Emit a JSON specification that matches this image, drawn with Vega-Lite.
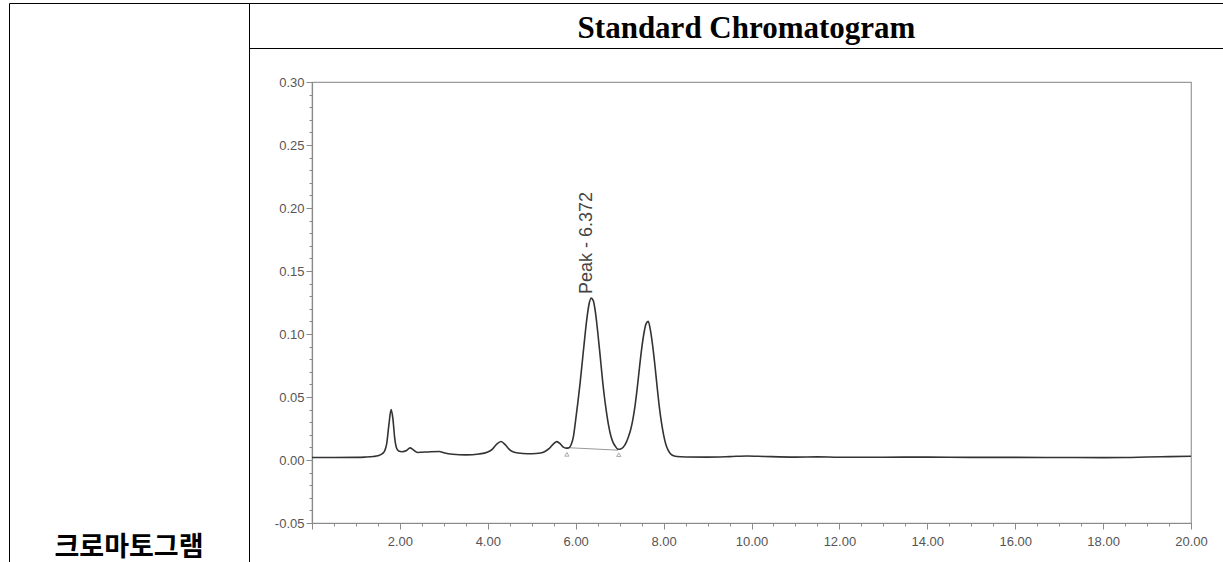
{
  "$schema": "https://vega.github.io/schema/vega-lite/v6.json",
  "padding": {"left": 8, "top": 2, "right": 0, "bottom": 0},
  "background": "#ffffff",
  "config": {
    "view": {"stroke": null},
    "axis": {"labelFont": "Liberation Sans", "grid": false}
  },
  "datasets": {
    "trace": [
      {"t": 0.00, "v": 0.0020}, {"t": 0.50, "v": 0.0020}, {"t": 1.00, "v": 0.0021}, {"t": 1.20, "v": 0.0023},
      {"t": 1.40, "v": 0.0028}, {"t": 1.50, "v": 0.0034}, {"t": 1.60, "v": 0.0050}, {"t": 1.65, "v": 0.0070},
      {"t": 1.70, "v": 0.0130}, {"t": 1.75, "v": 0.0280}, {"t": 1.80, "v": 0.0400}, {"t": 1.84, "v": 0.0330},
      {"t": 1.88, "v": 0.0180}, {"t": 1.92, "v": 0.0100}, {"t": 1.97, "v": 0.0072}, {"t": 2.05, "v": 0.0066},
      {"t": 2.15, "v": 0.0075}, {"t": 2.23, "v": 0.0096}, {"t": 2.30, "v": 0.0082}, {"t": 2.40, "v": 0.0060},
      {"t": 2.50, "v": 0.0062}, {"t": 2.70, "v": 0.0066}, {"t": 2.90, "v": 0.0068}, {"t": 3.00, "v": 0.0058},
      {"t": 3.20, "v": 0.0046}, {"t": 3.50, "v": 0.0041}, {"t": 3.80, "v": 0.0048}, {"t": 4.00, "v": 0.0064},
      {"t": 4.10, "v": 0.0085}, {"t": 4.20, "v": 0.0125}, {"t": 4.30, "v": 0.0147}, {"t": 4.40, "v": 0.0120},
      {"t": 4.50, "v": 0.0080}, {"t": 4.60, "v": 0.0062}, {"t": 4.80, "v": 0.0052}, {"t": 5.00, "v": 0.0050},
      {"t": 5.20, "v": 0.0056}, {"t": 5.30, "v": 0.0068}, {"t": 5.40, "v": 0.0092}, {"t": 5.50, "v": 0.0130},
      {"t": 5.57, "v": 0.0146}, {"t": 5.65, "v": 0.0128}, {"t": 5.72, "v": 0.0102}, {"t": 5.78, "v": 0.0094},
      {"t": 5.85, "v": 0.0098}, {"t": 5.90, "v": 0.0125}, {"t": 5.95, "v": 0.0190}, {"t": 6.00, "v": 0.0320},
      {"t": 6.05, "v": 0.0460}, {"t": 6.10, "v": 0.0610}, {"t": 6.15, "v": 0.0780}, {"t": 6.20, "v": 0.0950},
      {"t": 6.25, "v": 0.1110}, {"t": 6.30, "v": 0.1230}, {"t": 6.35, "v": 0.1285}, {"t": 6.40, "v": 0.1265},
      {"t": 6.45, "v": 0.1170}, {"t": 6.50, "v": 0.1020}, {"t": 6.55, "v": 0.0850}, {"t": 6.60, "v": 0.0670},
      {"t": 6.65, "v": 0.0510}, {"t": 6.70, "v": 0.0380}, {"t": 6.75, "v": 0.0270}, {"t": 6.80, "v": 0.0190},
      {"t": 6.85, "v": 0.0140}, {"t": 6.90, "v": 0.0110}, {"t": 6.95, "v": 0.0088}, {"t": 7.00, "v": 0.0085},
      {"t": 7.05, "v": 0.0092}, {"t": 7.10, "v": 0.0110}, {"t": 7.15, "v": 0.0140}, {"t": 7.20, "v": 0.0185},
      {"t": 7.25, "v": 0.0240}, {"t": 7.30, "v": 0.0320}, {"t": 7.35, "v": 0.0430}, {"t": 7.40, "v": 0.0570},
      {"t": 7.45, "v": 0.0730}, {"t": 7.50, "v": 0.0880}, {"t": 7.55, "v": 0.1000}, {"t": 7.60, "v": 0.1080},
      {"t": 7.65, "v": 0.1100}, {"t": 7.70, "v": 0.1030}, {"t": 7.75, "v": 0.0910}, {"t": 7.80, "v": 0.0760},
      {"t": 7.85, "v": 0.0590}, {"t": 7.90, "v": 0.0430}, {"t": 7.95, "v": 0.0300}, {"t": 8.00, "v": 0.0200},
      {"t": 8.05, "v": 0.0125}, {"t": 8.10, "v": 0.0080}, {"t": 8.15, "v": 0.0052}, {"t": 8.20, "v": 0.0038},
      {"t": 8.30, "v": 0.0028}, {"t": 8.50, "v": 0.0024}, {"t": 9.00, "v": 0.0023}, {"t": 9.50, "v": 0.0027},
      {"t": 9.90, "v": 0.0032}, {"t": 10.30, "v": 0.0028}, {"t": 11.00, "v": 0.0023}, {"t": 11.50, "v": 0.0025},
      {"t": 12.00, "v": 0.0022}, {"t": 13.00, "v": 0.0022}, {"t": 14.00, "v": 0.0023}, {"t": 15.00, "v": 0.0021},
      {"t": 16.00, "v": 0.0021}, {"t": 17.00, "v": 0.0020}, {"t": 18.00, "v": 0.0019}, {"t": 18.50, "v": 0.0020},
      {"t": 19.00, "v": 0.0024}, {"t": 19.50, "v": 0.0027}, {"t": 20.00, "v": 0.0030}
    ],
    "baseline": [{"t": 5.81, "v": 0.0098}, {"t": 6.96, "v": 0.0078}],
    "markers": [{"t": 5.80, "v": 0.0045}, {"t": 6.98, "v": 0.0042}],
    "peak": [{"t": 6.372, "v": 0.1285, "label": "Peak - 6.372"}]
  },
  "bounds": "flush",
  "spacing": 0,
  "hconcat": [
    {
      "width": 240,
      "height": 560,
      "view": {"stroke": "#000000", "strokeWidth": 1},
      "title": {"text": "크로마토그램", "orient": "bottom", "anchor": "middle", "frame": "group", "offset": -28, "baseline": "top", "font": "Noto Sans CJK KR", "fontWeight": "bold", "fontSize": 27, "color": "#000000"},
      "data": {"values": []},
      "mark": {"type": "point", "opacity": 0},
      "encoding": {}
    },
    {
      "bounds": "flush",
      "spacing": 34,
      "vconcat": [
        {
          "width": 975,
          "height": 45,
          "view": {"stroke": "#000000", "strokeWidth": 1},
          "title": {"text": "Standard  Chromatogram", "orient": "bottom", "anchor": "middle", "frame": "group", "offset": -10, "baseline": "alphabetic", "dx": 10, "font": "Liberation Serif", "fontWeight": "bold", "fontSize": 31, "color": "#000000"},
          "data": {"values": []},
          "mark": {"type": "point", "opacity": 0},
          "encoding": {}
        },
        {
          "bounds": "flush",
          "spacing": 0,
          "hconcat": [
            {
              "width": 63,
              "height": 441,
              "data": {"values": []},
              "mark": {"type": "point", "opacity": 0},
              "encoding": {}
            },
            {
              "width": 879,
              "height": 441,
              "view": {"stroke": "#9a9a9a", "strokeWidth": 1.2},
              "encoding": {
                "x": {
                  "field": "t", "type": "quantitative",
                  "scale": {"domain": [0, 20], "nice": false, "zero": false},
                  "axis": {
                    "title": null,
                    "values": [0, 0.5, 1, 1.5, 2, 2.5, 3, 3.5, 4, 4.5, 5, 5.5, 6, 6.5, 7, 7.5, 8, 8.5, 9, 9.5, 10, 10.5, 11, 11.5, 12, 12.5, 13, 13.5, 14, 14.5, 15, 15.5, 16, 16.5, 17, 17.5, 18, 18.5, 19, 19.5, 20],
                    "labelExpr": "datum.value % 2 == 0 && datum.value > 0 ? format(datum.value, '.2f') : ''",
                    "tickSize": {"condition": {"test": "datum.value % 2 == 0", "value": 6}, "value": 3},
                    "domainColor": "#8a8a8a", "domainWidth": 1.2,
                    "tickColor": "#8a8a8a", "tickWidth": 1,
                    "labelColor": "#555555", "labelFontSize": 13, "labelPadding": 6,
                    "labelOverlap": false, "labelFlush": false, "labelBound": false
                  }
                },
                "y": {
                  "field": "v", "type": "quantitative",
                  "scale": {"domain": [-0.05, 0.3], "nice": false, "zero": false},
                  "axis": {
                    "title": null,
                    "values": [-0.05, -0.04, -0.03, -0.02, -0.01, 0, 0.01, 0.02, 0.03, 0.04, 0.05, 0.06, 0.07, 0.08, 0.09, 0.1, 0.11, 0.12, 0.13, 0.14, 0.15, 0.16, 0.17, 0.18, 0.19, 0.2, 0.21, 0.22, 0.23, 0.24, 0.25, 0.26, 0.27, 0.28, 0.29, 0.3],
                    "labelExpr": "round(datum.value * 100) % 5 == 0 ? replace(format(datum.value, '.2f'), '\u2212', '-') : ''",
                    "tickSize": {"condition": {"test": "round(datum.value * 100) % 5 == 0", "value": 6}, "value": 3},
                    "domainColor": "#8a8a8a", "domainWidth": 1.2,
                    "tickColor": "#8a8a8a", "tickWidth": 1,
                    "labelColor": "#555555", "labelFontSize": 13, "labelPadding": 2,
                    "labelOverlap": false, "labelFlush": false, "labelBound": false
                  }
                }
              },
              "layer": [
                {
                  "data": {"name": "baseline"},
                  "mark": {"type": "line", "color": "#999999", "strokeWidth": 1}
                },
                {
                  "data": {"name": "trace"},
                  "mark": {"type": "line", "color": "#333333", "strokeWidth": 1.6, "interpolate": "monotone"}
                },
                {
                  "data": {"name": "markers"},
                  "mark": {"type": "point", "shape": "triangle-up", "size": 18, "filled": false, "color": "#888888", "strokeWidth": 1}
                },
                {
                  "data": {"name": "peak"},
                  "mark": {"type": "text", "angle": 270, "align": "left", "baseline": "alphabetic", "dx": 4, "font": "Liberation Sans", "fontSize": 18, "color": "#444444"},
                  "encoding": {"text": {"field": "label"}}
                }
              ]
            }
          ]
        }
      ]
    }
  ]
}
